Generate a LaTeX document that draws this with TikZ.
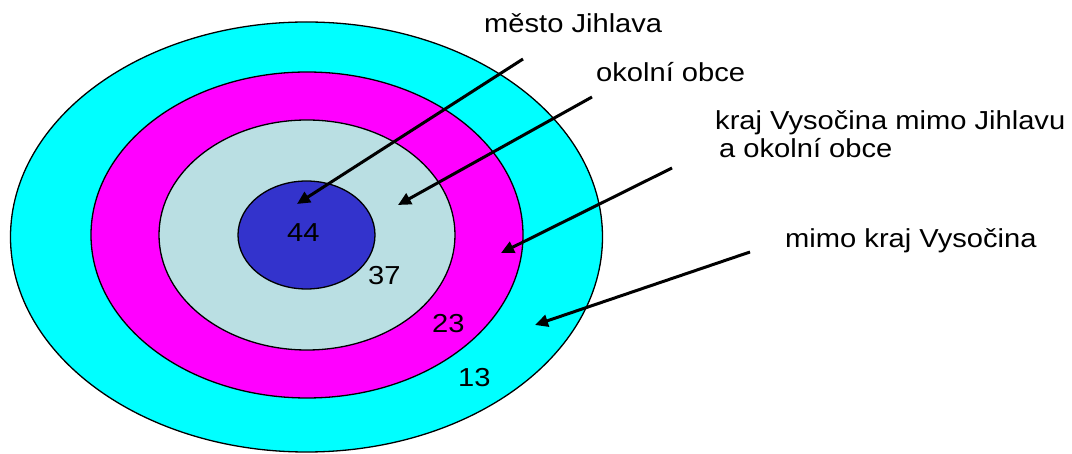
\documentclass[tikz,border=0pt]{standalone}
\usepackage{fontspec}
\setmainfont[FakeStretch=1.12]{Liberation Sans}
\usetikzlibrary{arrows.meta,shapes.geometric}
\definecolor{ringcyan}{RGB}{0,255,255}
\definecolor{ringmag}{RGB}{255,0,255}
\definecolor{ringlight}{RGB}{186,223,227}
\definecolor{ringdark}{RGB}{51,51,204}
\tikzset{
  ring/.style={ellipse, draw=black, line width=1.3pt, inner sep=0pt},
  lbl/.style={inner sep=0pt, anchor=base west, font=\fontsize{26}{28}\selectfont, align=left},
  pointer/.style={line width=3pt, -{Triangle[length=13pt,width=12pt]}}
}
\begin{document}
\begin{tikzpicture}[x=1pt,y=-1pt]
\useasboundingbox (0,0) rectangle (1072,454);
\node[ring, fill=ringcyan, minimum width=592pt, minimum height=430pt] (r4) at (306.5,237) {};
\node[ring, fill=ringmag, minimum width=432pt, minimum height=326pt] (r3) at (307,235) {};
\node[ring, fill=ringlight, minimum width=296pt, minimum height=230pt] (r2) at (307,235) {};
\node[ring, fill=ringdark, minimum width=137pt, minimum height=108pt] (r1) at (306.5,235) {};

\node[lbl] (n44) at (287,242) {44};
\node[lbl] (n37) at (368,285) {37};
\node[lbl] (n23) at (432,333) {23};
\node[lbl] (n13) at (458,387) {13};

\node[lbl] (t1) at (484,33) {město Jihlava};
\node[lbl] (t2) at (596,82) {okolní obce};
\node[lbl] (t3) at (715,158) {kraj Vysočina mimo Jihlavu\\\hspace*{4pt}a okolní obce};
\node[lbl] (t4) at (785,248) {mimo kraj Vysočina};

\coordinate (s1) at (523,59);  \coordinate (e1) at (297,204);
\coordinate (s2) at (592,97);  \coordinate (e2) at (398,205);
\coordinate (s3) at (672,168); \coordinate (e3) at (501,253);
\coordinate (s4) at (750,252); \coordinate (e4) at (535,325);
\draw[pointer] (s1) -- (e1);
\draw[pointer] (s2) -- (e2);
\draw[pointer] (s3) -- (e3);
\draw[pointer] (s4) -- (e4);
\end{tikzpicture}
\end{document}
